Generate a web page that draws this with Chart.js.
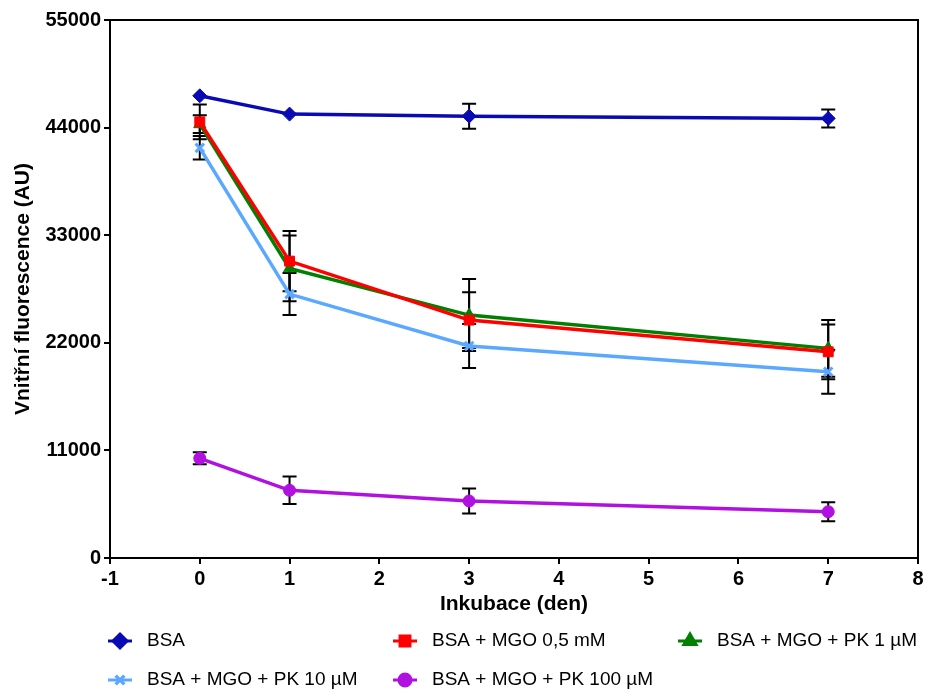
<!DOCTYPE html>
<html>
<head>
<meta charset="utf-8">
<script src="https://cdn.jsdelivr.net/npm/chart.js@4.4.1/dist/chart.umd.min.js"></script>
<style>
  html, body { margin: 0; padding: 0; background: #fff; }
  #wrap { width: 927px; height: 690px; }
</style>
</head>
<body>
<div id="wrap"><canvas id="fluo-chart" width="927" height="690"></canvas></div>
<script>
// days of incubation
const days = [0, 1, 3, 7];

const seriesNames = ['BSA', 'BSA + MGO 0,5 mM', 'BSA + MGO + PK 1 µM', 'BSA + MGO + PK 10 µM', 'BSA + MGO + PK 100 µM'];

const bsa = [47250, 45380, 45170, 44940];
const bsaErr = [0, 0, 1280, 920];
const mgo05 = [44590, 30350, 24320, 21080];
const mgo05Err = [1780, 3070, 2860, 2800];
const pk1 = [44350, 29610, 24830, 21430];
const pk1Err = [900, 3370, 3680, 2900];
const pk10 = [41930, 26980, 21670, 19040];
const pk10Err = [1200, 2150, 2250, 2250];
const pk100 = [10190, 6920, 5830, 4730];
const pk100Err = [610, 1400, 1270, 970];

const yTicks = [0, 11000, 22000, 33000, 44000, 55000];

const colors = ['#0a0ab4', '#ff0000', '#008000', '#5aa8ff', '#b010e0'];
const markers = ['rectRot', 'rect', 'triangle', 'crossRot', 'circle'];
const markerSize = [7, 7, 7, 6, 6];
const values = [bsa, mgo05, pk1, pk10, pk100];
const errors = [bsaErr, mgo05Err, pk1Err, pk10Err, pk100Err];

let datasets = values.map(function (vals, k) {
    return {
        label: seriesNames[k],
        data: days.map((d, i) => ({x: d, y: vals[i]})),
        err: errors[k],
        borderColor: colors[k],
        backgroundColor: colors[k],
        borderWidth: 3.5,
        pointStyle: markers[k],
        pointRadius: markerSize[k],
        pointHoverRadius: markerSize[k],
        pointBorderWidth: markers[k] === 'crossRot' ? 3 : 1,
        tension: 0
    };
});

// error bars, drawn through the scales
let errorBars = {
    id: 'errorBars',
    beforeDatasetsDraw(chart) {
        let c = chart.ctx;
        let xs = chart.scales.x, ys = chart.scales.y;
        c.save();
        c.strokeStyle = '#000';
        c.lineWidth = 2;
        chart.data.datasets.forEach(function (ds) {
            ds.data.forEach(function (p, i) {
                if (!ds.err[i]) return;
                let x = xs.getPixelForValue(p.x);
                let top = ys.getPixelForValue(p.y + ds.err[i]);
                let bot = ys.getPixelForValue(p.y - ds.err[i]);
                c.beginPath();
                c.moveTo(x, top); c.lineTo(x, bot);
                c.moveTo(x - 7, top); c.lineTo(x + 7, top);
                c.moveTo(x - 7, bot); c.lineTo(x + 7, bot);
                c.stroke();
            });
        });
        c.restore();
    }
};

// box round the plot + legend in three columns
let frameAndLegend = {
    id: 'frameAndLegend',
    afterDraw(chart) {
        let c = chart.ctx;
        let a = chart.chartArea;
        c.save();
        c.strokeStyle = '#000';
        c.lineWidth = 2;
        c.beginPath();
        c.moveTo(a.left, a.top); c.lineTo(a.right, a.top); c.lineTo(a.right, a.bottom);
        c.stroke();

        c.font = '19px "Liberation Sans", Arial, sans-serif';
        c.textBaseline = 'middle';
        chart.data.datasets.forEach(function (ds, k) {
            let col = k < 3 ? k : k - 3;
            let row = k < 3 ? 0 : 1;
            let cx = a.left + 10 + col * 285;
            let cy = a.bottom + 83 + row * 39;
            c.strokeStyle = ds.borderColor;
            c.lineWidth = 3;
            c.beginPath();
            c.moveTo(cx - 12, cy); c.lineTo(cx + 12, cy);
            c.stroke();
            Chart.helpers.drawPoint(c, {
                pointStyle: ds.pointStyle,
                radius: ds.pointRadius,
                rotation: 0,
                borderWidth: ds.pointBorderWidth
            }, cx, cy);
            c.fillStyle = ds.borderColor;
            c.strokeStyle = ds.borderColor;
            c.lineWidth = ds.pointBorderWidth;
            c.fill();
            c.stroke();
            c.fillStyle = '#000';
            c.fillText(ds.label, cx + 27, cy);
        });
        c.restore();
    }
};

let ctx = document.getElementById('fluo-chart').getContext('2d');

let chart = new Chart(ctx, {
    type: 'line',
    data: {datasets: datasets},
    plugins: [errorBars, frameAndLegend],
    options: {
        responsive: false,
        animation: false,
        layout: {padding: {top: 20, right: 4, left: 0, bottom: 70}},
        plugins: {legend: {display: false}, tooltip: {enabled: false}},
        scales: {
            x: {
                type: 'linear',
                min: -1,
                max: 8,
                afterFit: function (s) { s.height = 62; },
                ticks: {
                    stepSize: 1,
                    color: '#000',
                    padding: 3,
                    maxRotation: 0,
                    font: {family: '"Liberation Sans", Arial, sans-serif', size: 20, weight: 'bold'}
                },
                grid: {drawOnChartArea: false, drawTicks: true, tickLength: 6, color: '#000', lineWidth: 2},
                border: {display: true, color: '#000', width: 2},
                title: {
                    display: true,
                    text: 'Inkubace (den)',
                    color: '#000',
                    padding: {top: 0, bottom: 3},
                    font: {family: '"Liberation Sans", Arial, sans-serif', size: 21, weight: 'bold'}
                }
            },
            y: {
                min: 0,
                max: 55000,
                afterFit: function (s) { s.width = 110; },
                afterBuildTicks: function (s) { s.ticks = yTicks.map(v => ({value: v})); },
                ticks: {
                    color: '#000',
                    padding: 3,
                    callback: v => String(v),
                    font: {family: '"Liberation Sans", Arial, sans-serif', size: 20, weight: 'bold'}
                },
                grid: {drawOnChartArea: false, drawTicks: true, tickLength: 6, color: '#000', lineWidth: 2},
                border: {display: true, color: '#000', width: 2},
                title: {
                    display: true,
                    text: 'Vnitřní fluorescence (AU)',
                    color: '#000',
                    padding: {top: 11, bottom: 0},
                    font: {family: '"Liberation Sans", Arial, sans-serif', size: 21, weight: 'bold'}
                }
            }
        }
    }
});
</script>
</body>
</html>
